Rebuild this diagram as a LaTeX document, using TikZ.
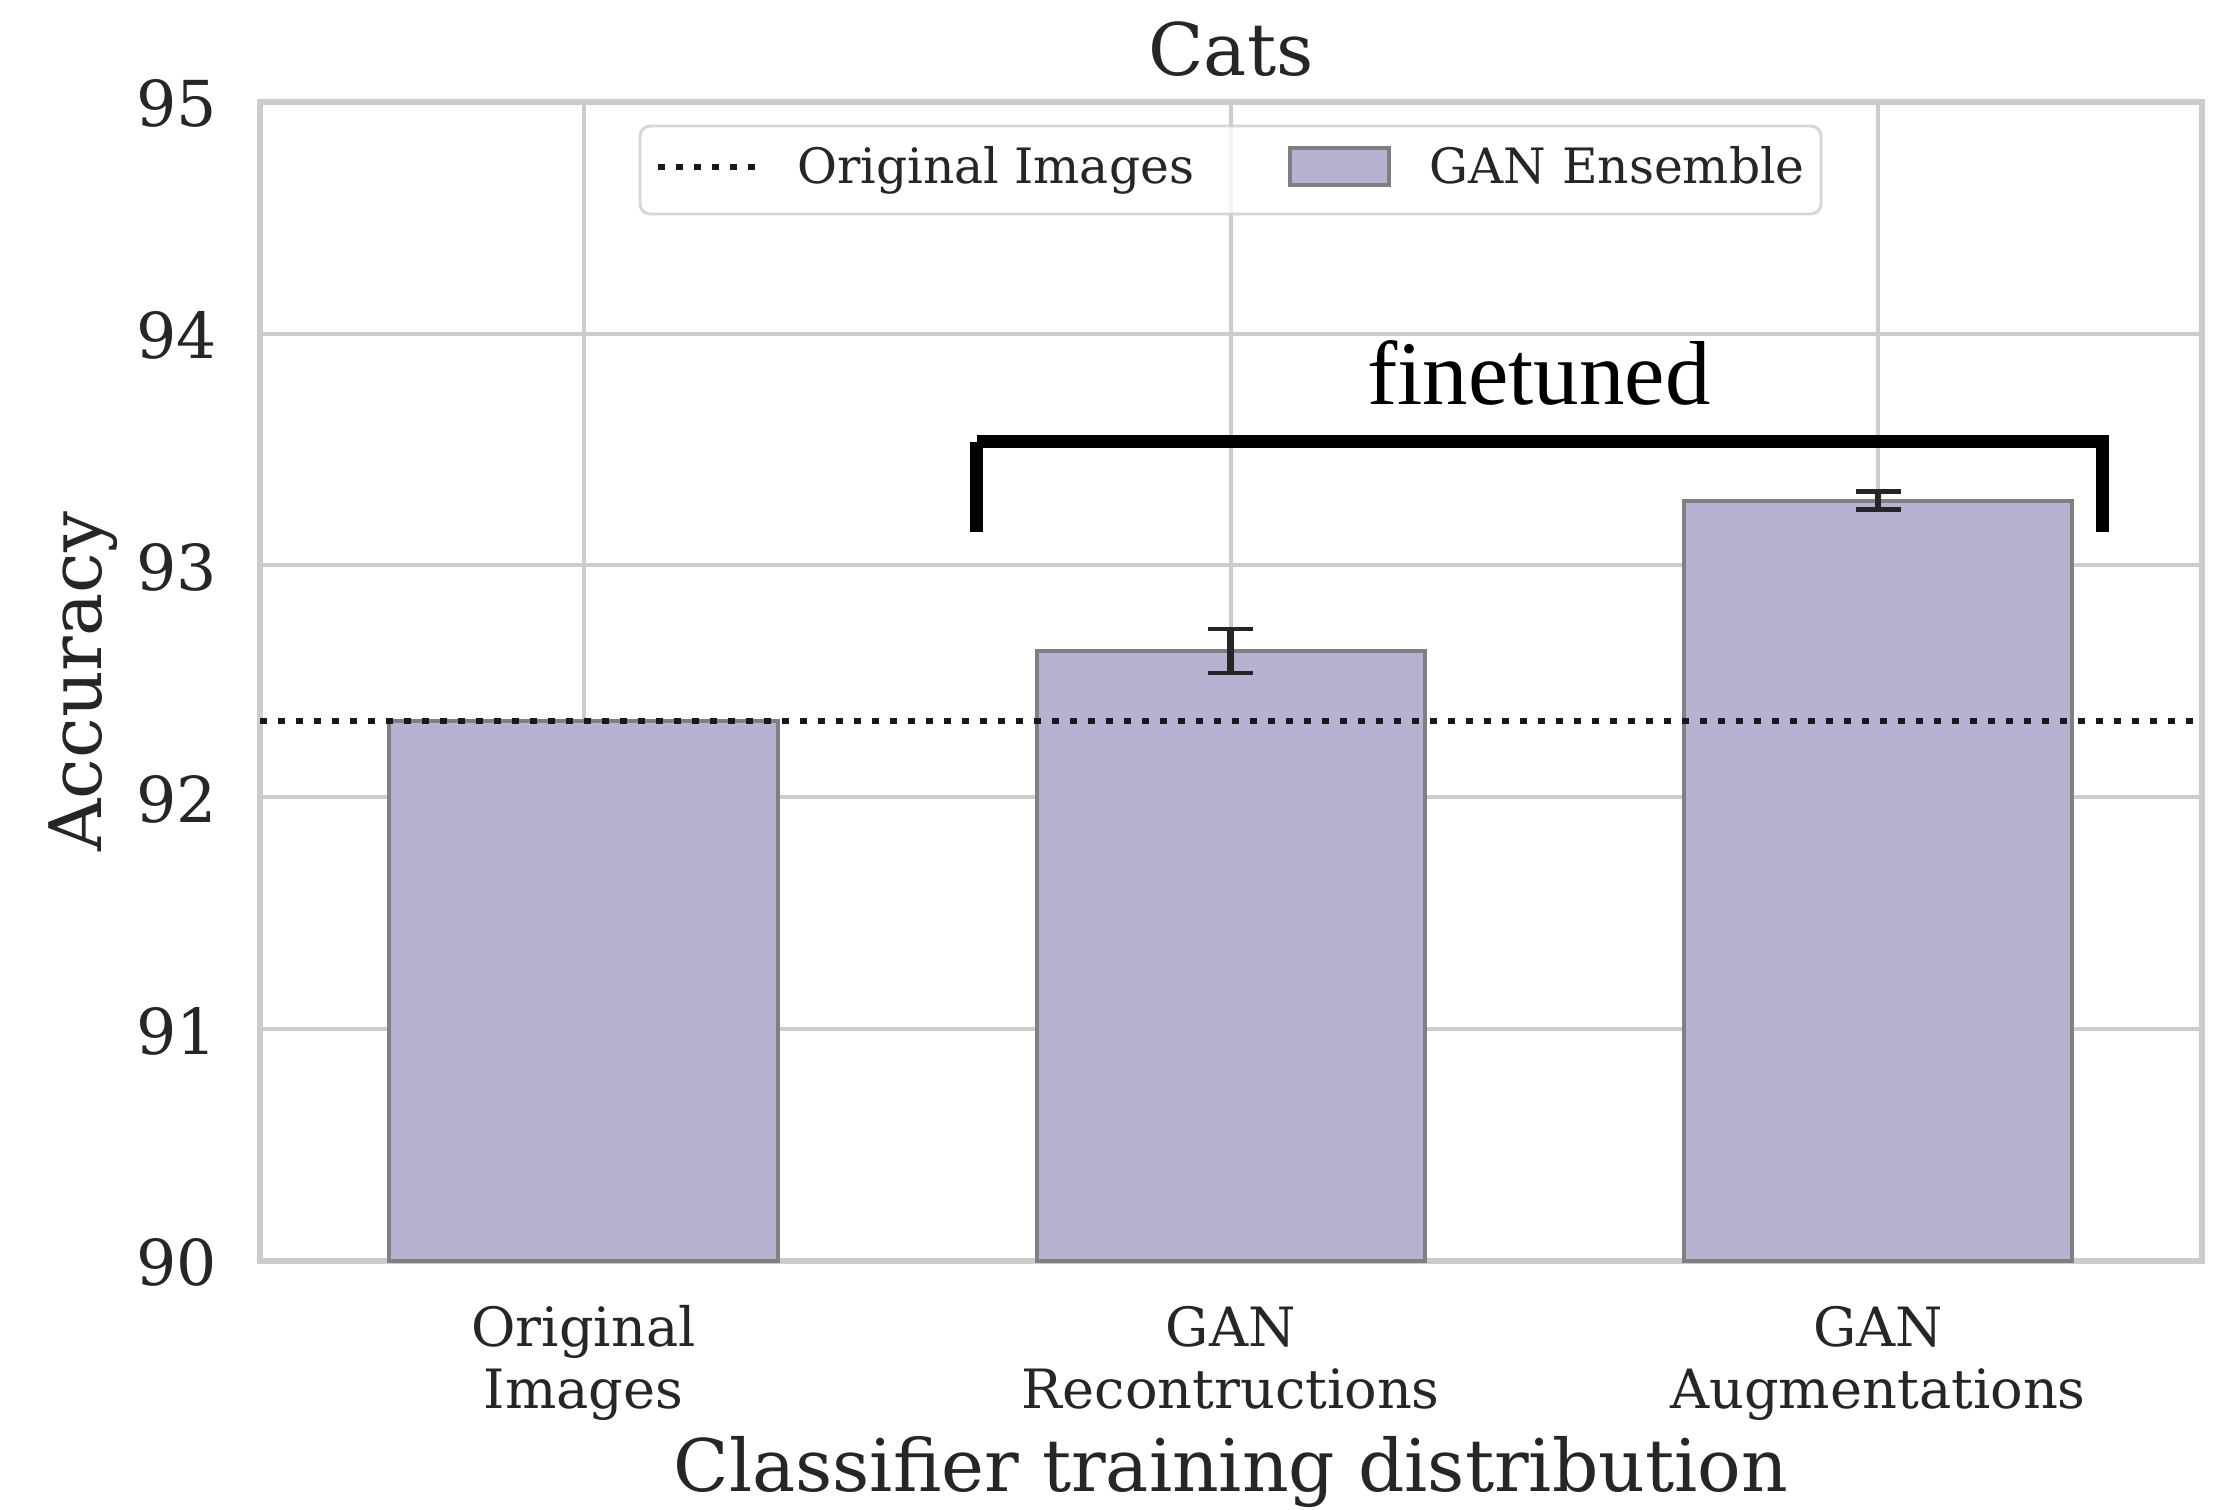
\documentclass[tikz,border=0pt]{standalone}
\usepackage{fontspec}
\setmainfont{DejaVu Serif}
\newfontfamily\annotfont{Liberation Serif}
\definecolor{barfill}{HTML}{B7B1D2}
\definecolor{baredge}{HTML}{808080}
\definecolor{gridc}{HTML}{CCCCCC}
\definecolor{ink}{HTML}{262626}
\begin{document}
\begin{tikzpicture}[x=0.24pt,y=-0.24pt,
  gridline/.style={draw=gridc,line width=1pt},
  spine/.style={draw=gridc,line width=1.4pt},
  bar/.style={fill=barfill,draw=baredge,line width=1pt},
  errline/.style={draw=ink,line width=1.6pt},
  errcap/.style={draw=ink,line width=1pt},
  refline/.style={draw=black!90,line width=1.37pt,dash pattern=on 1.68pt off 2.64pt},
  bracket/.style={draw=black,line width=3.2pt},
  ytick/.style={text=ink,inner sep=0pt,anchor=base east,font=\fontsize{15.2}{18.2}\selectfont},
  xtick/.style={text=ink,inner sep=0pt,anchor=base,font=\fontsize{13.0}{15.6}\selectfont},
  axlabel/.style={text=ink,inner sep=0pt,anchor=base,font=\fontsize{17.4}{20.9}\selectfont},
  legtext/.style={text=ink,inner sep=0pt,anchor=base west,font=\fontsize{11.7}{14}\selectfont}]
\useasboundingbox (0,0) rectangle (2227,1510);
\fill[white] (0,0) rectangle (2227,1510);

% grid
\foreach \yy in {333.6,565.4,797.3,1029.1}
  \draw[gridline] (260,\yy) -- (2201.7,\yy);
\foreach \xx in {583.6,1230.8,1878.0}
  \draw[gridline] (\xx,101.7) -- (\xx,1261);

% axes frame
\draw[spine] (260,101.7) rectangle (2201.7,1261);

% bars
\draw[bar] (389.4,1261) rectangle (777.8,720.8);
\draw[bar] (1036.6,1261) rectangle (1425.0,651.3);
\draw[bar] (1683.8,1261) rectangle (2072.2,500.7);

% error bars
\coordinate (e1t) at (1230.8,628.7);
\coordinate (e1b) at (1230.8,673.0);
\draw[errline] (e1t) -- (e1b);
\draw[errcap] ([xshift=-22.5*0.24pt]e1t) -- ([xshift=22.5*0.24pt]e1t);
\draw[errcap] ([xshift=-22.5*0.24pt]e1b) -- ([xshift=22.5*0.24pt]e1b);
\coordinate (e2t) at (1878.0,491.5);
\coordinate (e2b) at (1878.0,509.5);
\draw[errline] (e2t) -- (e2b);
\draw[errcap] ([xshift=-22.5*0.24pt]e2t) -- ([xshift=22.5*0.24pt]e2t);
\draw[errcap] ([xshift=-22.5*0.24pt]e2b) -- ([xshift=22.5*0.24pt]e2b);

% reference level of the original images
\draw[refline] (260,721.2) -- (2201.7,721.2);

% bracket over the finetuned bars
\coordinate (bl) at (976.7,531.7);
\coordinate (tl) at (976.7,441.7);
\coordinate (tr) at (2102.7,441.7);
\coordinate (br) at (2102.7,531.7);
\draw[bracket] (tl) -- (bl);
\draw[bracket,miter limit=10] (tl) -- (tr) -- (br);
\node[inner sep=0pt,anchor=base,font=\annotfont\fontsize{21.8}{26}\selectfont] (fine) at (1539,405) {finetuned};

% legend
\draw[draw=gridc,draw opacity=0.8,fill=white,fill opacity=0.8,line width=0.7pt,rounded corners=2.4pt]
  (640,126) rectangle (1821,214);
\draw[refline] (658,167) -- (757,167);
\node[legtext] (leg1) at (796.5,183.3) {Original Images};
\draw[fill=barfill,draw=baredge,line width=1pt] (1290,147.7) rectangle (1389.4,185.3);
\node[legtext] (leg2) at (1429,183.3) {GAN Ensemble};

% y ticks
\node[ytick] (y95) at (218,126.7) {95};
\node[ytick] (y94) at (218,358.6) {94};
\node[ytick] (y93) at (218,590.4) {93};
\node[ytick] (y92) at (218,822.3) {92};
\node[ytick] (y91) at (218,1054.1) {91};
\node[ytick] (y90) at (218,1286) {90};

% x ticks
\node[xtick] (x0a) at (583.6,1346.7) {Original};
\node[xtick] (x0b) at (583.6,1408.3) {Images};
\node[xtick] (x1a) at (1230.8,1346.7) {GAN};
\node[xtick] (x1b) at (1230.8,1408.3) {Recontructions};
\node[xtick] (x2a) at (1878.0,1346.7) {GAN};
\node[xtick] (x2b) at (1878.0,1408.3) {Augmentations};

% labels and title
\node[axlabel] (xlab) at (1230.8,1491.7) {Classifier training distribution};
\node[axlabel,rotate=90] (ylab) at (102,681.7) {Accuracy};
\node[text=ink,inner sep=0pt,anchor=base,font=\fontsize{17.4}{20.9}\selectfont] (title) at (1231,76) {Cats};
\end{tikzpicture}
\end{document}
